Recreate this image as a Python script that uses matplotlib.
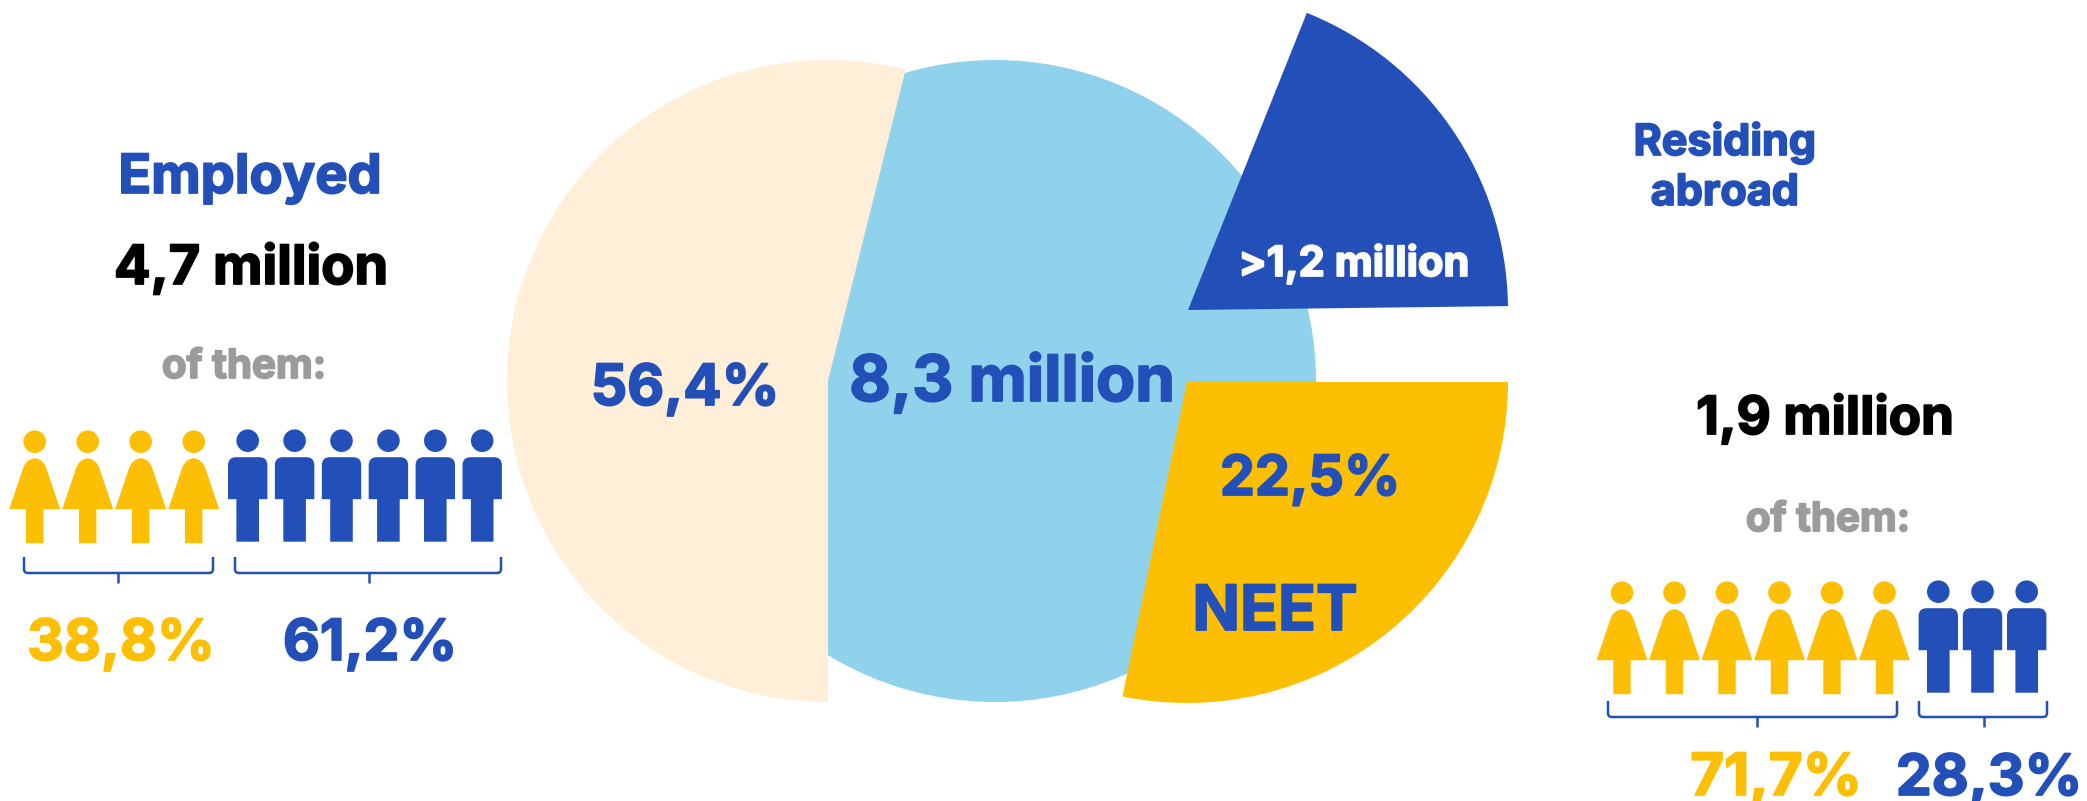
"""Employed / NEET / abroad infographic with pie wedges and people pictograms."""
import matplotlib
matplotlib.use("Agg")
import matplotlib.pyplot as plt
import matplotlib.patheffects as pe
from matplotlib.patches import Wedge, Circle, PathPatch
from matplotlib.path import Path

# ── data ─────────────────────────────────────────────────────────────────────
# wedge spans as drawn (degrees, counter-clockwise start -> end)
employed_span = [76, 270]
total_span    = [0, 360]
abroad_span   = [0.7, 68.2]
neet_span     = [258.4, 360]

employed_total = "4,7 million"
abroad_total   = "1,9 million"
employed_share = "56,4%"
neet_share     = "22,5%"
total_label    = "8,3 million"
abroad_label   = ">1,2 million"

employed_women, employed_men = 4, 6
abroad_women, abroad_men     = 6, 3
employed_split = ["38,8%", "61,2%"]
abroad_split   = ["71,7%", "28,3%"]

# ── palette ──────────────────────────────────────────────────────────────────
CREAM  = "#FFEFD9"
SKY    = "#90D2EB"
BLUE   = "#2350B8"
YELLOW = "#FCBF04"
GREY   = "#9B9B9B"
BLACK  = "#000000"

W, H = 2087, 801
FONT = "Inter"

fig = plt.figure(figsize=(W / 100, H / 100), dpi=100, facecolor="white")
ax = fig.add_axes([0, 0, 1, 1])
ax.set_xlim(0, W)
ax.set_ylim(0, H)
ax.axis("off")


def Y(py):
    return H - py


def label(x, base, s, color, size, stroke=1.3):
    # the source font is heavier than Inter Bold, a thin outline makes up for it
    t = ax.text(x, Y(base), s, color=color, fontsize=size, fontweight="bold",
                family=FONT, ha="center", va="baseline", zorder=10)
    t.set_path_effects([pe.withStroke(linewidth=stroke, foreground=color)])


def woman(cx, top):
    ax.add_patch(Circle((cx, Y(top)), 11.3, color=YELLOW, lw=0))
    d = top + 16.5
    v = [(-25.5, d + 51), (-12, d + 11), (-9, d + 1), (0, d), (9, d + 1), (12, d + 11),
         (25.5, d + 51), (8.7, d + 51), (8.7, d + 85), (-8.7, d + 85), (-8.7, d + 51),
         (-25.5, d + 51)]
    c = [Path.MOVETO, Path.LINETO, Path.CURVE3, Path.CURVE3, Path.CURVE3, Path.CURVE3,
         Path.LINETO, Path.LINETO, Path.LINETO, Path.LINETO, Path.LINETO, Path.CLOSEPOLY]
    ax.add_patch(PathPatch(Path([(cx + a, Y(b)) for a, b in v], c), color=YELLOW, lw=0))


def man(cx, top):
    ax.add_patch(Circle((cx, Y(top)), 11.3, color=BLUE, lw=0))
    d = top + 16.5
    v = [(-19.7, d + 42), (-19.7, d + 8), (-19.7, d), (-11.7, d), (11.7, d), (19.7, d),
         (19.7, d + 8), (19.7, d + 42), (11.3, d + 42), (11.3, d + 84.5), (-11.3, d + 84.5),
         (-11.3, d + 42), (-19.7, d + 42)]
    c = [Path.MOVETO, Path.LINETO, Path.CURVE3, Path.CURVE3, Path.LINETO, Path.CURVE3,
         Path.CURVE3, Path.LINETO, Path.LINETO, Path.LINETO, Path.LINETO, Path.LINETO,
         Path.CLOSEPOLY]
    ax.add_patch(PathPatch(Path([(cx + a, Y(b)) for a, b in v], c), color=BLUE, lw=0))


def brace(x0, x1, xm, top):
    r = 4
    v = [(x0, top), (x0, top + 16 - r), (x0, top + 16), (x0 + r, top + 16),
         (x1 - r, top + 16), (x1, top + 16), (x1, top + 16 - r), (x1, top)]
    c = [Path.MOVETO, Path.LINETO, Path.CURVE3, Path.CURVE3, Path.LINETO, Path.CURVE3,
         Path.CURVE3, Path.LINETO]
    ax.add_patch(PathPatch(Path([(a, Y(b)) for a, b in v], c), fc="none", ec=BLUE, lw=1.8))
    ax.plot([xm, xm], [Y(top + 16), Y(top + 26)], color=BLUE, lw=1.8, solid_capstyle="butt")


# ── pie pieces ───────────────────────────────────────────────────────────────
R = 321
ax.add_patch(Wedge((995, Y(381)), R, *total_span, fc=SKY, lw=0, zorder=1))
ax.add_patch(Wedge((828, Y(381)), R, *employed_span, fc=CREAM, lw=0, zorder=2))
ax.add_patch(Wedge((1188, Y(310)), R - 1, *abroad_span, fc=BLUE, lw=0, zorder=3))
ax.add_patch(Wedge((1187, Y(382)), R, *neet_span, fc=YELLOW, lw=0, zorder=3))

# ── pictograms, left group ───────────────────────────────────────────────────
for i in range(employed_women):
    woman(34.7 + i * 53, 441.7)
for i in range(employed_men):
    man(247.7 + i * 46.9, 440.7)
brace(24, 213, 118, 557)
brace(235, 501, 369, 557)

# ── pictograms, right group ──────────────────────────────────────────────────
for i in range(abroad_women):
    woman(1622 + i * 52.5, 592.7)
for i in range(abroad_men):
    man(1938.3 + i * 44.2, 591.7)
brace(1608, 1897, 1757, 701)
brace(1919, 2047, 1984, 701)

# ── text ─────────────────────────────────────────────────────────────────────
label(250, 193, "Employed", BLUE, 39)
label(251, 284, employed_total, BLACK, 39)
label(244, 378, "of them:", GREY, 29)
label(121, 660, employed_split[0], YELLOW, 41)
label(370, 660, employed_split[1], BLUE, 41)

label(685, 405, employed_share, BLUE, 41)
label(1012, 401, total_label, BLUE, 46)
label(1354, 276, abroad_label, "white", 30)
label(1310, 495, neet_share, BLUE, 40)
label(1275, 630, "NEET", BLUE, 45)

label(1725, 155, "Residing", BLUE, 31)
label(1725, 205, "abroad", BLUE, 31)
label(1825, 434, abroad_total, BLACK, 38)
label(1828, 531, "of them:", GREY, 29)
label(1776, 795, abroad_split[0], YELLOW, 42)
label(1989, 795, abroad_split[1], BLUE, 41)

plt.savefig("out.png", dpi=100, facecolor="white")
plt.close()
